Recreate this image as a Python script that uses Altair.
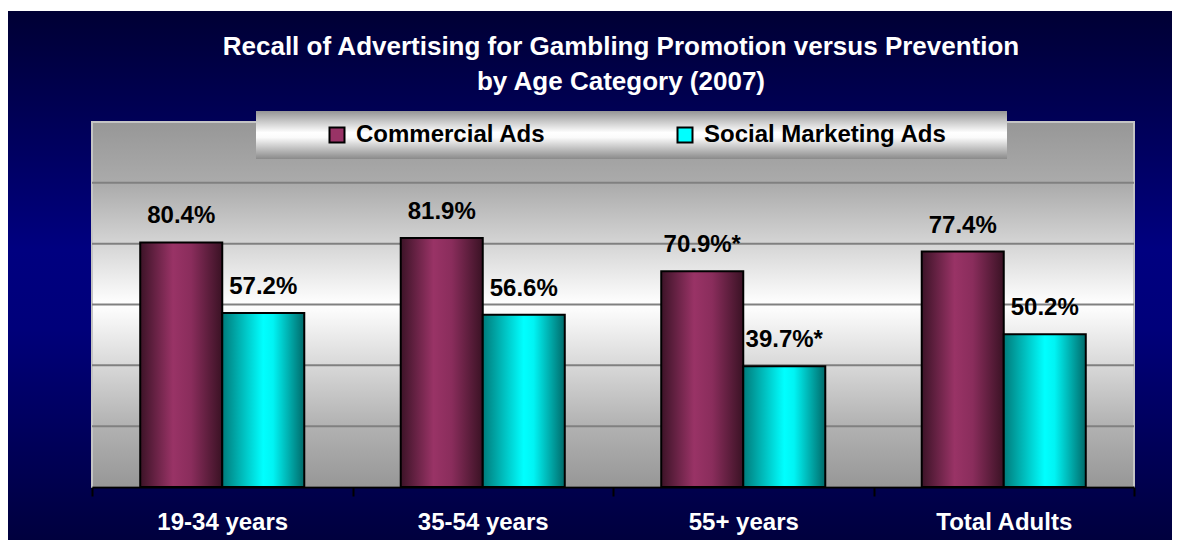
import altair as alt
import pandas as pd

# ---------------- data ----------------
CATEGORIES = ["19-34 years", "35-54 years", "55+ years", "Total Adults"]
SERIES = ["Commercial Ads", "Social Marketing Ads"]
COMMERCIAL = [80.4, 81.9, 70.9, 77.4]
SOCIAL = [57.2, 56.6, 39.7, 50.2]
COMMERCIAL_SIG = [False, False, True, False]
SOCIAL_SIG = [False, False, True, False]
GRID = [20, 40, 60, 80, 100]
TITLE_LINES = ["Recall of Advertising for Gambling Promotion versus Prevention",
               "by Age Category (2007)"]

rows = []
for cat, v, s in zip(CATEGORIES, COMMERCIAL, COMMERCIAL_SIG):
    rows.append({"category": cat, "series": SERIES[0], "value": v,
                 "label": f"{v:.1f}%" + ("*" if s else "")})
for cat, v, s in zip(CATEGORIES, SOCIAL, SOCIAL_SIG):
    rows.append({"category": cat, "series": SERIES[1], "value": v,
                 "label": f"{v:.1f}%" + ("*" if s else "")})
df = pd.DataFrame(rows)
grid_df = pd.DataFrame({"g": GRID})
one = pd.DataFrame({"k": [0]})
title_df = pd.DataFrame({"t": ["\n".join(TITLE_LINES)]})

# ---------------- layout ----------------
W, H = 1042, 365
PAD = {"left": 84, "top": 114, "right": 38, "bottom": 53}
FONT = "Liberation Sans, Arial, sans-serif"

def grad(stops, vertical=False):
    return alt.LinearGradient(
        gradient="linear",
        stops=[alt.GradientStop(color=c, offset=o) for o, c in stops],
        x1=0, x2=0 if vertical else 1, y1=0, y2=1 if vertical else 0,
    )

x_enc = alt.X("category:N", sort=CATEGORIES,
              scale=alt.Scale(paddingInner=0, paddingOuter=0),
              axis=alt.Axis(title=None, labelAngle=0, labelColor="white",
                            labelFont=FONT, labelFontSize=24, labelFontWeight="bold",
                            tickColor="black", tickSize=9, tickWidth=2,
                            domainColor="black", domainWidth=2,
                            tickBand="extent", grid=False, labelPadding=14,
                            zindex=1))
xo_enc = alt.XOffset("series:N", sort=SERIES,
                     scale=alt.Scale(paddingOuter=0.588, paddingInner=0))
y_enc = alt.Y("value:Q", scale=alt.Scale(domain=[0, 120], nice=False, zero=True),
              axis=None)

# navy page background
navy = alt.Chart(one).mark_rect(
    fill=grad([(0, "#000034"), (0.45, "#000080"), (0.6, "#00007a"), (1, "#00003e")], vertical=True)
).encode(x=alt.value(-PAD["left"]), x2=alt.value(W + PAD["right"]),
         y=alt.value(-PAD["top"] + 3), y2=alt.value(H + PAD["bottom"]))

# plot area background
plotbg = alt.Chart(one).mark_rect(
    fill=grad([(0, "#979797"), (0.17, "#ababab"), (0.5, "#ffffff"), (0.83, "#b2b2b2"), (1, "#979797")], vertical=True),
    stroke="#c4c4c4", strokeWidth=2
).encode(x=alt.value(0), x2=alt.value(W), y=alt.value(0), y2=alt.value(H))

grid = alt.Chart(grid_df).mark_rule(color="#808080", strokeWidth=2).encode(
    y=alt.Y("g:Q", scale=alt.Scale(domain=[0, 120], nice=False), axis=None),
    x=alt.value(0), x2=alt.value(W))

bar_c = alt.Chart(df).transform_filter(alt.datum.series == SERIES[0]).mark_bar(
    fill=grad([(0, "#3c1327"), (0.4, "#993366"), (0.62, "#8a2d5c"), (1, "#3a1224")]),
    stroke="black", strokeWidth=2
).encode(x=x_enc, xOffset=xo_enc, y=y_enc)

bar_s = alt.Chart(df).transform_filter(alt.datum.series == SERIES[1]).mark_bar(
    fill=grad([(0, "#007b7b"), (0.5, "#00ffff"), (0.62, "#00f4f4"), (1, "#006a6a")]),
    stroke="black", strokeWidth=2
).encode(x=x_enc, xOffset=xo_enc, y=y_enc)

labels = alt.Chart(df).mark_text(
    font=FONT, fontSize=24, fontWeight="bold", color="black",
    baseline="alphabetic", dy=-19
).encode(x=x_enc, xOffset=xo_enc, y=y_enc, text="label:N")

# legend box
legbox = alt.Chart(one).mark_rect(
    fill=grad([(0, "#959595"), (0.45, "#ffffff"), (0.55, "#fbfbfb"), (1, "#8a8a8a")], vertical=True)
).encode(x=alt.value(164), x2=alt.value(915), y=alt.value(-11), y2=alt.value(37))

legend_layer = alt.Chart(df).mark_square(filled=True, opacity=0).encode(
    x=x_enc, xOffset=xo_enc, y=y_enc,
    color=alt.Color("series:N", sort=SERIES,
                    scale=alt.Scale(domain=SERIES, range=["#993366", "#00ffff"]),
                    legend=alt.Legend(orient="none", legendX=233, legendY=1,
                                      direction="horizontal", title=None,
                                      symbolType="square", symbolSize=225,
                                      symbolStrokeColor="black", symbolStrokeWidth=2,
                                      symbolOpacity=1,
                                      labelFont=FONT, labelFontSize=24,
                                      labelFontWeight="bold", labelColor="black",
                                      labelOffset=7, labelLimit=400,
                                      columnPadding=127, padding=0)))

title = alt.Chart(title_df).mark_text(
    font=FONT, fontSize=26, fontWeight="bold", color="white",
    baseline="alphabetic", align="center", lineBreak="\n", lineHeight=35
).encode(x=alt.value(529), y=alt.value(55 - 122), text="t:N")

chart = alt.layer(navy, plotbg, grid, bar_c, bar_s, labels, legbox, legend_layer, title).properties(
    width=W, height=H,
    autosize=alt.AutoSizeParams(type="none"),
    padding=PAD,
    background="white",
).configure_view(stroke=None)

chart.save("out.html", embed_options={"renderer": "svg", "actions": False})
